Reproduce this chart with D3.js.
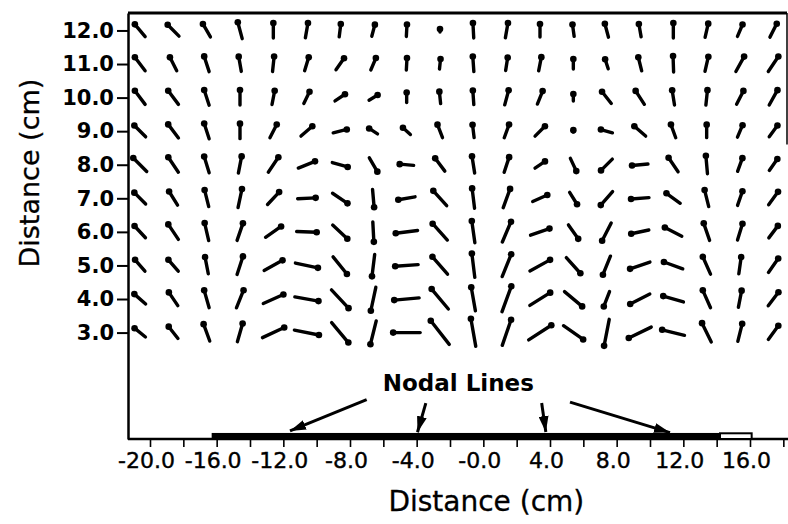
<!DOCTYPE html>
<html>
<head>
<meta charset="utf-8">
<script src="https://cdn.jsdelivr.net/npm/d3@7/dist/d3.min.js"></script>
<style>
body { margin: 0; background: #fff; }
text { font-family: "DejaVu Sans", "Liberation Sans", sans-serif; fill: #000; }
</style>
</head>
<body>
<div id="chart"></div>
<script>
// grid of the needle plot
var xVals = [-20, -18, -16, -14, -12, -10, -8, -6, -4, -2, 0, 2, 4, 6, 8, 10, 12, 14, 16, 18];
var yVals = [12, 11, 10, 9, 8, 7, 6, 5, 4, 3];

// direction of the dot end (degrees, 0 = right, 90 = up), one array per row
var ang12 = [130, 135, 120, 105, 90, 80, 83, 75, 87, 90, 93, 80, 90, 98, 105, 100, 90, 77, 67, 63];
var ang11 = [127, 117, 108, 100, 84, 73, 55, 67, 87, 84, 94, 81, 79, 90, 108, 104, 92, 77, 61, 56];
var ang10 = [127, 127, 108, 90, 79, 64, 34, 31, 90, 96, 94, 75, 68, 90, 128, 123, 99, 84, 63, 61];
var ang9  = [135, 127, 108, 90, 63, 41, 14, 147, 138, 111, 97, 70, 45, 90, 164, 139, 110, 90, 67, 54];
var ang8  = [135, 124, 107, 79, 56, 22, -16, -60, 175, 127, 99, 72, 34, -65, 225, 185, 124, 95, 70, 55];
var ang7  = [135, 122, 104, 78, 47, 3, -34, -85, 190, 132, 97, 70, 24, -58, 229, 184, 144, 104, 71, 54];
var ang6  = [133, 124, 103, 71, 35, -2, -43, -87, 187, 132, 98, 67, 19, -55, 243, 192, 153, 109, 73, 53];
var ang5  = [131, 131, 101, 72, 29, -12, -51, -97, 184, 131, 97, 68, 29, -48, 248, 199, 160, 114, 82, 55];
var ang4  = [139, 124, 106, 68, 24, -10, -47, -102, 185, 130, 100, 70, 32, -40, 249, 207, 164, 114, 79, 53];
var ang3  = [141, 128, 110, 74, 25, -11, -50, -104, 180, 128, 100, 71, 33, -35, 259, 206, 166, 116, 76, 54];

// needle magnitudes, one array per row
var mag12 = [16, 16, 15, 17, 15, 15, 13, 12, 12, 3, 15, 15, 13, 12, 14, 13, 15, 14, 13, 15];
var mag11 = [17, 15, 16, 15, 15, 14, 14, 13, 12, 10, 15, 13, 14, 10, 10, 14, 16, 15, 17, 18];
var mag10 = [17, 17, 16, 15, 14, 13, 12, 10, 10, 12, 14, 15, 14, 7, 15, 16, 15, 15, 15, 17];
var mag9  = [16, 17, 16, 15, 15, 15, 14, 10, 10, 14, 13, 14, 14, 2, 12, 15, 14, 13, 13, 14];
var mag8  = [19, 18, 17, 17, 18, 18, 16, 16, 14, 16, 17, 16, 12, 14, 16, 16, 17, 18, 14, 14];
var mag7  = [16, 16, 17, 19, 17, 18, 18, 18, 17, 20, 20, 20, 16, 14, 18, 18, 17, 17, 15, 16];
var mag6  = [16, 18, 18, 18, 19, 20, 20, 20, 22, 22, 22, 22, 20, 17, 20, 18, 19, 18, 17, 15];
var mag5  = [15, 15, 17, 19, 21, 23, 22, 22, 23, 23, 24, 24, 23, 21, 20, 21, 20, 19, 17, 17];
var mag4  = [15, 16, 18, 19, 22, 24, 25, 24, 25, 26, 24, 27, 24, 23, 16, 22, 21, 19, 17, 17];
var mag3  = [14, 15, 18, 19, 24, 25, 26, 24, 27, 30, 28, 27, 27, 24, 27, 25, 23, 21, 18, 17];

var angleRows = [ang12, ang11, ang10, ang9, ang8, ang7, ang6, ang5, ang4, ang3];
var magRows = [mag12, mag11, mag10, mag9, mag8, mag7, mag6, mag5, mag4, mag3];

// axes
var xTickVals = [-20, -18, -16, -14, -12, -10, -8, -6, -4, -2, 0, 2, 4, 6, 8, 10, 12, 14, 16, 18];
var xLabelVals = [-20, -16, -12, -8, -4, 0, 4, 8, 12, 16];
var xLabels = ["-20.0", "-16.0", "-12.0", "-8.0", "-4.0", "-0.0", "4.0", "8.0", "12.0", "16.0"];
var yTickVals = [3, 4, 5, 6, 7, 8, 9, 10, 11, 12];
var yLabels = ["3.0", "4.0", "5.0", "6.0", "7.0", "8.0", "9.0", "10.0", "11.0", "12.0"];

// nodal line bar along the bottom and the annotation arrows
var barStart = -16.3, barSolidEnd = 14.2, barEnd = 16.1;
var arrowTailX = [-7.0, -3.45, 3.5, 5.2];
var arrowTailY = [1.0, 0.9, 0.9, 0.93];
var arrowHeadX = [-11.6, -3.95, 3.75, 11.2];
var arrowHeadY = [0.07, 0.03, 0.04, 0.02];
var noteText = "Nodal Lines", noteX = -1.5, noteY = 1.27;

var width = 788, height = 524;
var needleShift = -10;

var svg = d3.select("#chart").append("svg")
    .attr("width", width)
    .attr("height", height);

var x = d3.scaleLinear().domain([-21.32, 18.22]).range([128, 787]);
var y = d3.scaleLinear().domain([-0.17, 12.52]).range([439, 13]);
var len = d3.scaleLinear().domain([0, 30]).range([0, 30]);

// frame top / right
svg.append("line")
    .attr("x1", x.range()[0]).attr("x2", x.range()[1])
    .attr("y1", y.range()[1]).attr("y2", y.range()[1])
    .attr("stroke", "#000").attr("stroke-width", 3);
svg.append("line")
    .attr("x1", x.range()[1]).attr("x2", x.range()[1])
    .attr("y1", y.range()[1]).attr("y2", y(8.6))
    .attr("stroke", "#000").attr("stroke-width", 1.5);

// x axis
var xAxis = d3.axisBottom(x)
    .tickValues(xTickVals)
    .tickSize(8)
    .tickSizeOuter(0)
    .tickPadding(5)
    .tickFormat(function(d) {
        var i = xLabelVals.indexOf(d);
        return i < 0 ? "" : xLabels[i];
    });

var gx = svg.append("g")
    .attr("transform", "translate(0," + y.range()[0] + ")")
    .call(xAxis);
gx.select(".domain").attr("stroke-width", 2.5).attr("d", "M" + x.range()[0] + ",0H" + (x.range()[1] + 1));
gx.selectAll(".tick line").attr("stroke-width", 1.6);
gx.selectAll(".tick text")
    .attr("dx", -4)
    .attr("stroke", "#000")
    .attr("stroke-width", 0.4)
    .style("font-size", "22px")
    .style("font-family", "'DejaVu Sans', sans-serif");

// y axis
var yAxis = d3.axisLeft(y)
    .tickValues(yTickVals)
    .tickSize(11)
    .tickSizeOuter(0)
    .tickPadding(3)
    .tickFormat(function(d) { return yLabels[yTickVals.indexOf(d)]; });

var gy = svg.append("g")
    .attr("transform", "translate(" + x.range()[0] + ",0)")
    .call(yAxis);
gy.select(".domain").attr("stroke-width", 2.5);
gy.selectAll(".tick line").attr("stroke-width", 2);
gy.selectAll(".tick text")
    .style("font-size", "21px")
    .style("font-weight", "bold")
    .style("font-family", "'DejaVu Sans', sans-serif");

// axis titles
svg.append("text")
    .attr("x", x(0) + 3)
    .attr("y", 511)
    .attr("text-anchor", "middle")
    .attr("stroke", "#000")
    .attr("stroke-width", 0.3)
    .style("font-size", "28px")
    .text("Distance (cm)");

svg.append("text")
    .attr("transform", "translate(39," + y(7.75) + ") rotate(-90)")
    .attr("text-anchor", "middle")
    .attr("stroke", "#000")
    .attr("stroke-width", 0.3)
    .style("font-size", "27px")
    .text("Distance (cm)");

// needles
var needles = [];
yVals.forEach(function(yv, r) {
    xVals.forEach(function(xv, c) {
        needles.push({x: xv, y: yv, a: angleRows[r][c], m: magRows[r][c]});
    });
});

function ends(d) {
    var cx = x(d.x) + needleShift, cy = y(d.y);
    var h = len(d.m) / 2, t = d.a * Math.PI / 180;
    return {
        x1: cx - h * Math.cos(t), y1: cy + h * Math.sin(t),
        x2: cx + h * Math.cos(t), y2: cy - h * Math.sin(t)
    };
}

var ng = svg.append("g").attr("class", "needles");
ng.selectAll("line").data(needles)
    .enter().append("line")
    .attr("x1", function(d) { return ends(d).x1; })
    .attr("y1", function(d) { return ends(d).y1; })
    .attr("x2", function(d) { return ends(d).x2; })
    .attr("y2", function(d) { return ends(d).y2; })
    .attr("stroke", "#000")
    .attr("stroke-width", 3.4)
    .attr("stroke-linecap", "round");
ng.selectAll("circle").data(needles)
    .enter().append("circle")
    .attr("cx", function(d) { return ends(d).x2; })
    .attr("cy", function(d) { return ends(d).y2; })
    .attr("r", 3.3)
    .attr("fill", "#000");

// nodal bar
svg.append("rect")
    .attr("x", x(barStart))
    .attr("y", y(0.01))
    .attr("width", x(barSolidEnd) - x(barStart))
    .attr("height", y(-0.17) - y(0.01))
    .attr("fill", "#000");
svg.append("rect")
    .attr("x", x(barSolidEnd))
    .attr("y", y(0.0))
    .attr("width", x(barEnd) - x(barSolidEnd))
    .attr("height", y(-0.17) - y(0.0))
    .attr("fill", "#fff")
    .attr("stroke", "#000")
    .attr("stroke-width", 2);

// arrows
svg.append("defs").append("marker")
    .attr("id", "head")
    .attr("markerUnits", "userSpaceOnUse")
    .attr("markerWidth", 18)
    .attr("markerHeight", 10)
    .attr("refX", 16)
    .attr("refY", 5)
    .attr("orient", "auto")
    .append("path")
    .attr("d", "M0,0L16,5L0,10Z")
    .attr("fill", "#000");

svg.selectAll(".arrow").data(arrowTailX)
    .enter().append("line")
    .attr("class", "arrow")
    .attr("x1", function(d, i) { return x(arrowTailX[i]); })
    .attr("y1", function(d, i) { return y(arrowTailY[i]); })
    .attr("x2", function(d, i) { return x(arrowHeadX[i]); })
    .attr("y2", function(d, i) { return y(arrowHeadY[i]); })
    .attr("stroke", "#000")
    .attr("stroke-width", 3)
    .attr("marker-end", "url(#head)");

svg.append("text")
    .attr("x", x(noteX))
    .attr("y", y(noteY))
    .attr("text-anchor", "middle")
    .style("font-size", "23px")
    .style("font-weight", "bold")
    .text(noteText);
</script>
</body>
</html>
